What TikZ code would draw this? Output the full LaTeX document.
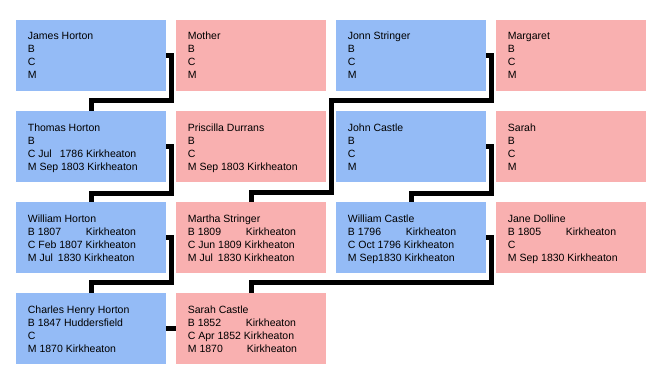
\documentclass[tikz,border=0pt]{standalone}
\usepackage{fontspec}
\setmainfont{Liberation Sans}
\definecolor{mblue}{RGB}{148,187,246}
\definecolor{fpink}{RGB}{249,176,176}
\newcommand\tb[2]{\makebox[58pt][l]{#1}#2}
\tikzset{
  pbox/.style={draw=none, anchor=north west, minimum width=150pt, minimum height=71pt, inner sep=0pt, outer sep=0pt},
  male/.style={pbox, fill=mblue},
  female/.style={pbox, fill=fpink},
  ptxt/.style={anchor=base west, inner sep=0pt, align=left, font=\fontsize{10.5}{13}\selectfont},
  conn/.style={line width=5pt, line join=miter, black}
}
\newcommand\person[5]{%
  \node[#4] (#1) at (#2,#3) {};
  \node[ptxt] (#1t) at ([shift={(11.7,59)}]#1.north west) {#5};
}
\begin{document}
\begin{tikzpicture}[x=1pt,y=-1pt]
\useasboundingbox (0,0) rectangle (660,385);
% row 1
\person{jh}{16}{20}{male}{James Horton\\B\\C\\M}
\person{mo}{176}{20}{female}{Mother\\B\\C\\M}
\person{js}{336}{20}{male}{Jonn Stringer\\B\\C\\M}
\person{mg}{496}{20}{female}{Margaret\\B\\C\\M}
% row 2
\person{th}{16}{111}{male}{Thomas Horton\\B\\C Jul\hspace{8pt}1786 Kirkheaton\\M Sep 1803 Kirkheaton}
\person{pd}{176}{111}{female}{Priscilla Durrans\\B\\C\\M Sep 1803 Kirkheaton}
\person{jc}{336}{111}{male}{John Castle\\B\\C\\M}
\person{sa}{496}{111}{female}{Sarah\\B\\C\\M}
% row 3
\person{wh}{16}{202}{male}{William Horton\\\tb{B 1807}{Kirkheaton}\\C Feb 1807 Kirkheaton\\M Jul\hspace{5pt}1830 Kirkheaton}
\person{ms}{176}{202}{female}{Martha Stringer\\\tb{B 1809}{Kirkheaton}\\C Jun 1809 Kirkheaton\\M Jul\hspace{5pt}1830 Kirkheaton}
\person{wc}{336}{202}{male}{William Castle\\\tb{B 1796}{Kirkheaton}\\C Oct 1796 Kirkheaton\\M Sep1830 Kirkheaton}
\person{jd}{496}{202}{female}{Jane Dolline\\\tb{B 1805}{Kirkheaton}\\C\\M Sep 1830 Kirkheaton}
% row 4
\person{ch}{16}{293}{male}{Charles Henry Horton\\B 1847 Huddersfield\\C\\M 1870 Kirkheaton}
\person{sc}{176}{293}{female}{Sarah Castle\\\tb{B 1852}{Kirkheaton}\\C Apr 1852 Kirkheaton\\\tb{M 1870}{\hspace{1pt}Kirkheaton}}
% junction points
\coordinate (j1) at (331,100.5);
\coordinate (j2) at (331,192.5);
% connectors
\draw[conn] (jh.east) -- ++(5,0) -- ++(0,45) -| (th.north);
\draw[conn] (th.east) -- ++(5,0) -- ++(0,46.5) -| (wh.north);
\draw[conn] (wh.east) -- ++(5,0) -- ++(0,45) -| (ch.north);
\draw[conn] (js.east) -- ++(5,0) |- (j1) -- (j2) -| (ms.north);
\draw[conn] (jc.east) -- ++(5,0) -- ++(0,46.5) -| (wc.north);
\draw[conn] (wc.east) -- ++(5,0) -- ++(0,45) -| (sc.north);
\draw[conn] (ch.east) -- (sc.west);
\end{tikzpicture}
\end{document}
